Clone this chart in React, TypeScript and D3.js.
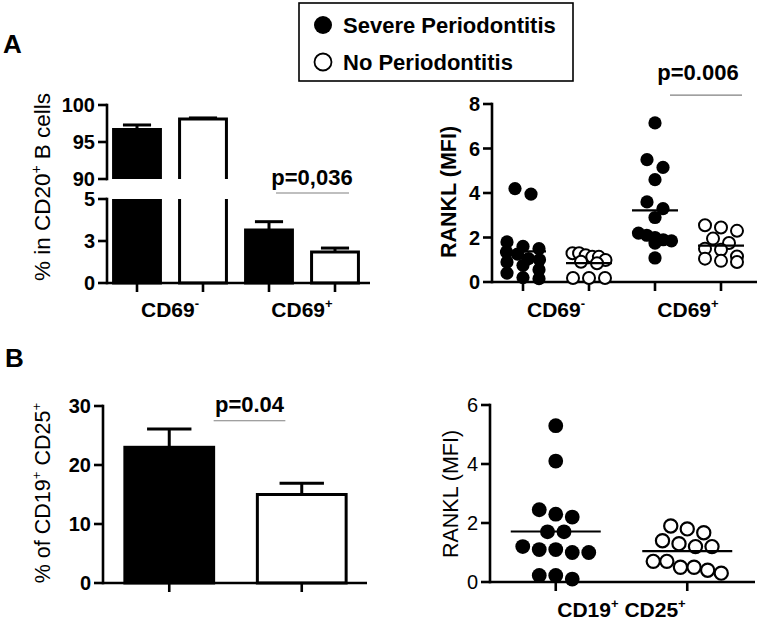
import React from "react";
import * as d3 from "d3";

const W = 759;
const H = 628;
const FONT = "'Liberation Sans', Arial, Helvetica, sans-serif";

// ---------- Legend ----------
const groupNames = ["Severe Periodontitis", "No Periodontitis"];

// ---------- Panel A (left): bars with broken axis ----------
const aCategories = ["CD69^{-}", "CD69^{+}"];
const aBarGroup = [0, 1, 0, 1]; // 0 = severe, 1 = none
const aBarMeans = [96.7, 98.1, 3.15, 1.85];
const aBarSem = [0.6, 0.15, 0.5, 0.23];
const aUpperTicks = [90, 95, 100];
const aLowerTicks = [0, 2.5, 5];
const aLowerTickLabels = ["0", "3", "5"];
const aPValue = "p=0,036";
const aYLabel = "% in CD20^{+} B cells";

// ---------- Panel A (right): RANKL scatter ----------
const aRightCategories = ["CD69^{-}", "CD69^{+}"];
const ranklCD69negSevere = [4.2, 3.95, 1.8, 1.6, 1.5, 1.35, 1.25, 1.05, 1.0, 0.9, 0.75, 0.55, 0.4, 0.2, 0.15];
const ranklCD69negNo = [1.29, 1.29, 1.2, 1.13, 1.13, 0.99, 0.91, 0.84, 0.18, 0.18, 0.18];
const ranklCD69posSevere = [7.15, 5.5, 5.15, 4.6, 3.6, 3.3, 2.9, 2.2, 2.1, 2.0, 1.9, 1.85, 1.75, 1.08];
const ranklCD69posNo = [2.55, 2.45, 2.3, 1.95, 1.75, 1.5, 1.45, 1.15, 1.05, 0.95, 0.9];
const aRightTicks = [0, 2, 4, 6, 8];
const aRightP = "p=0.006";

// ---------- Panel B (left): bars ----------
const bBarMeans = [23.0, 15.0];
const bBarSem = [3.1, 1.9];
const bTicks = [0, 10, 20, 30];
const bP = "p=0.04";
const bYLabel = "% of CD19^{+} CD25^{+}";

// ---------- Panel B (right): RANKL scatter ----------
const ranklCD19Severe = [5.3, 4.1, 2.45, 2.3, 2.2, 1.7, 1.7, 1.2, 1.1, 1.1, 1.0, 1.0, 0.22, 0.22, 0.1];
const ranklCD19No = [1.9, 1.8, 1.67, 1.4, 1.3, 1.2, 1.2, 0.7, 0.7, 0.5, 0.5, 0.4, 0.3];
const bRightTicks = [0, 2, 4, 6];
const bRightCategory = "CD19^{+} CD25^{+}";
const ranklLabel = "RANKL (MFI)";

// ---------- helpers ----------
function Rich(props: any) {
  const { text, size, weight = "normal", anchor = "middle", ...rest } = props;
  const parts: string[] = text.split(/\^\{(.*?)\}/);
  const supSize = size * 0.62;
  const shift = size * 0.42;
  let raised = false;
  const kids: any[] = [];
  parts.forEach((p, i) => {
    if (!p) return;
    if (i % 2 === 1) {
      kids.push(
        <tspan key={i} dy={raised ? 0 : -shift} fontSize={supSize}>
          {p}
        </tspan>
      );
      raised = true;
    } else {
      kids.push(
        <tspan key={i} dy={raised ? shift : 0}>
          {p}
        </tspan>
      );
      raised = false;
    }
  });
  return (
    <text fontFamily={FONT} fontSize={size} fontWeight={weight} textAnchor={anchor} {...rest}>
      {kids}
    </text>
  );
}

function swarm(
  values: number[],
  y: (v: number) => number,
  cx: number,
  rowTol: number,
  step: number,
  maxHalf: number
) {
  const pts = values.map((v, i) => ({ v, i, y: y(v) })).sort((a, b) => a.y - b.y);
  const rows: { y0: number; pts: typeof pts }[] = [];
  pts.forEach((p) => {
    const last = rows[rows.length - 1];
    if (last && p.y - last.y0 <= rowTol) last.pts.push(p);
    else rows.push({ y0: p.y, pts: [p] });
  });
  const out: { x: number; y: number; v: number }[] = [];
  rows.forEach((r) => {
    const n = r.pts.length;
    const s = n > 1 ? Math.min(step, (2 * maxHalf) / (n - 1)) : 0;
    r.pts
      .slice()
      .sort((a, b) => a.i - b.i)
      .forEach((p, k) => out.push({ x: cx + (k - (n - 1) / 2) * s, y: p.y, v: p.v }));
  });
  return out;
}

const AX = 2.6; // axis stroke

function YAxis(props: any) {
  const { x, y0, y1, ticks, scale, labels, weight = "bold", size = 20 } = props;
  return (
    <g>
      <line x1={x} x2={x} y1={y0} y2={y1} stroke="#000" strokeWidth={AX} strokeLinecap="square" />
      {ticks.map((t: number, i: number) => (
        <g key={i}>
          <line x1={x - 9} x2={x} y1={scale(t)} y2={scale(t)} stroke="#000" strokeWidth={AX} />
          <text
            x={x - 12}
            y={scale(t)}
            dy="0.36em"
            textAnchor="end"
            fontFamily={FONT}
            fontSize={size}
            fontWeight={weight}
          >
            {labels ? labels[i] : String(t)}
          </text>
        </g>
      ))}
    </g>
  );
}

function XAxis(props: any) {
  const { y, x0, x1, ticks } = props;
  return (
    <g>
      <line x1={x0} x2={x1} y1={y} y2={y} stroke="#000" strokeWidth={AX} />
      {ticks.map((t: number, i: number) => (
        <line key={i} x1={t} x2={t} y1={y} y2={y + 9} stroke="#000" strokeWidth={AX} />
      ))}
    </g>
  );
}

export default function App() {
  // ----- Panel A left -----
  const tlX = d3
    .scaleBand<number>()
    .domain(d3.range(aBarMeans.length))
    .range([104, 368])
    .paddingInner(0.29)
    .paddingOuter(0.145);
  const tlUp = d3.scaleLinear().domain([90, 100]).range([179, 105]);
  const tlLo = d3.scaleLinear().domain([0, 5]).range([283, 199]);
  const tlAxisX = 107;
  const bw = tlX.bandwidth();
  const tlC = (i: number) => (tlX(i) as number) + bw / 2;

  const tlBars: any[] = [];
  aBarMeans.forEach((v, i) => {
    const x0 = tlX(i) as number;
    const x1 = x0 + bw;
    const fill = aBarGroup[i] === 0 ? "#000" : "#fff";
    const segs: [number, number, boolean][] = [];
    const broken = v > 5;
    if (broken) {
      segs.push([tlUp(v), tlUp(90), true]);
      segs.push([tlLo(5), tlLo(0), false]);
    } else {
      segs.push([tlLo(v), tlLo(0), false]);
    }
    segs.forEach(([top, bot, upper], k) => {
      let d: string;
      if (upper) d = `M${x0},${bot}V${top}H${x1}V${bot}`;
      else if (broken) d = `M${x0},${top}V${bot}H${x1}V${top}`;
      else d = `M${x0},${bot}V${top}H${x1}V${bot}Z`;
      tlBars.push(
        <g key={`${i}-${k}`}>
          <rect x={x0} y={top} width={bw} height={bot - top} fill={fill} />
          <path d={d} fill="none" stroke="#000" strokeWidth={3} />
        </g>
      );
    });
    const sc = broken ? tlUp : tlLo;
    const yt = sc(v);
    const ye = sc(v + aBarSem[i]);
    const cx = tlC(i);
    tlBars.push(
      <g key={`e${i}`}>
        <line x1={cx} x2={cx} y1={yt} y2={ye} stroke="#000" strokeWidth={3} />
        <line x1={cx - bw * 0.3} x2={cx + bw * 0.3} y1={ye} y2={ye} stroke="#000" strokeWidth={3} />
      </g>
    );
  });

  // ----- Panel A right -----
  const trX = d3.scalePoint<number>().domain([0, 1, 2, 3]).range([490, 754]).padding(0.5);
  const trY = d3.scaleLinear().domain([0, 8]).range([282, 104]);
  const trSets = [ranklCD69negSevere, ranklCD69negNo, ranklCD69posSevere, ranklCD69posNo];
  const trGroup = [0, 1, 0, 1];

  // ----- Panel B left -----
  const blX = d3
    .scaleBand<number>()
    .domain([0, 1])
    .range([103, 368])
    .paddingInner(0.33)
    .paddingOuter(0.165);
  const blY = d3.scaleLinear().domain([0, 30]).range([583, 406]);
  const bbw = blX.bandwidth();

  // ----- Panel B right -----
  const brX = d3.scalePoint<number>().domain([0, 1]).range([490, 753]).padding(0.5);
  const brY = d3.scaleLinear().domain([0, 6]).range([582, 405]);
  const brSets = [ranklCD19Severe, ranklCD19No];

  return (
    <svg
      width={W}
      height={H}
      viewBox={`0 0 ${W} ${H}`}
      style={{ position: "absolute", left: 0, top: 0, background: "#fff" }}
    >
      <rect x={0} y={0} width={W} height={H} fill="#fff" />

      {/* Panel letters */}
      <text x={3} y={53} fontFamily={FONT} fontSize={26} fontWeight="bold">A</text>
      <text x={5} y={367} fontFamily={FONT} fontSize={26} fontWeight="bold">B</text>

      {/* Legend */}
      <g>
        <rect x={299} y={3} width={274} height={78} fill="#fff" stroke="#000" strokeWidth={1.6} />
        <circle cx={323} cy={25} r={9} fill="#000" />
        <text x={343} y={33} fontFamily={FONT} fontSize={22} fontWeight="bold">{groupNames[0]}</text>
        <circle cx={323} cy={62} r={8.5} fill="#fff" stroke="#000" strokeWidth={1.8} />
        <text x={343} y={70} fontFamily={FONT} fontSize={22} fontWeight="bold">{groupNames[1]}</text>
      </g>

      {/* ===== Panel A left ===== */}
      <g>
        {tlBars}
        <YAxis x={tlAxisX} y0={tlUp(100)} y1={tlUp(90)} ticks={aUpperTicks} scale={tlUp} />
        <YAxis x={tlAxisX} y0={tlLo(5)} y1={tlLo(0)} ticks={aLowerTicks} scale={tlLo} labels={aLowerTickLabels} />
        <XAxis y={tlLo(0)} x0={tlAxisX} x1={370} ticks={d3.range(4).map(tlC)} />
        {aCategories.map((c, k) => (
          <Rich
            key={k}
            text={c}
            x={(tlC(2 * k) + tlC(2 * k + 1)) / 2}
            y={317}
            size={21}
            weight="bold"
          />
        ))}
        <Rich text={aYLabel} size={22.5} transform="translate(50,187) rotate(-90)" />
        <text x={(tlC(2) + tlC(3)) / 2 + 10} y={185} textAnchor="middle" fontFamily={FONT} fontSize={22} fontWeight="bold">
          {aPValue}
        </text>
        <line x1={tlC(2) + 7} x2={tlC(3) + 14} y1={193} y2={193} stroke="#808080" strokeWidth={1.2} />
      </g>

      {/* ===== Panel A right ===== */}
      <g>
        <YAxis x={492} y0={trY(8)} y1={trY(0)} ticks={aRightTicks} scale={trY} />
        <XAxis y={trY(0)} x0={492} x1={757} ticks={[0, 1, 2, 3].map((i) => trX(i) as number)} />
        {trSets.map((vals, g) => {
          const cx = trX(g) as number;
          const pts = swarm(vals, trY, cx, 8, 16, 16.5);
          const m = d3.mean(vals) as number;
          const filled = trGroup[g] === 0;
          return (
            <g key={g}>
              {pts.map((p, k) =>
                filled ? (
                  <circle key={k} cx={p.x} cy={p.y} r={6.6} fill="#000" />
                ) : (
                  <circle key={k} cx={p.x} cy={p.y} r={6} fill="#fff" stroke="#000" strokeWidth={2} />
                )
              )}
              <line x1={cx - 23} x2={cx + 23} y1={trY(m)} y2={trY(m)} stroke="#000" strokeWidth={2.2} />
            </g>
          );
        })}
        {aRightCategories.map((c, k) => (
          <Rich
            key={k}
            text={c}
            x={((trX(2 * k) as number) + (trX(2 * k + 1) as number)) / 2}
            y={317}
            size={21}
            weight="bold"
          />
        ))}
        <Rich text={ranklLabel} size={21.5} weight="bold" transform="translate(456,192) rotate(-90)" />
        <text
          x={((trX(2) as number) + (trX(3) as number)) / 2 + 10}
          y={80}
          textAnchor="middle"
          fontFamily={FONT}
          fontSize={22}
          fontWeight="bold"
        >
          {aRightP}
        </text>
        <line
          x1={(trX(2) as number) + 15}
          x2={(trX(3) as number) + 21}
          y1={trY(8.4)}
          y2={trY(8.4)}
          stroke="#808080"
          strokeWidth={1.2}
        />
      </g>

      {/* ===== Panel B left ===== */}
      <g>
        {bBarMeans.map((v, i) => {
          const x0 = blX(i) as number;
          const cx = x0 + bbw / 2;
          const yt = blY(v);
          const ye = blY(v + bBarSem[i]);
          return (
            <g key={i}>
              <rect
                x={x0}
                y={yt}
                width={bbw}
                height={blY(0) - yt}
                fill={i === 0 ? "#000" : "#fff"}
                stroke="#000"
                strokeWidth={3}
              />
              <line x1={cx} x2={cx} y1={yt} y2={ye} stroke="#000" strokeWidth={3} />
              <line x1={cx - bbw * 0.25} x2={cx + bbw * 0.25} y1={ye} y2={ye} stroke="#000" strokeWidth={3} />
            </g>
          );
        })}
        <YAxis x={103} y0={blY(30)} y1={blY(0)} ticks={bTicks} scale={blY} />
        <XAxis y={blY(0)} x0={103} x1={367} ticks={[0, 1].map((i) => (blX(i) as number) + bbw / 2)} />
        <Rich text={bYLabel} size={21.5} transform="translate(50,493) rotate(-90)" />
        <text
          x={((blX(0) as number) + bbw + (blX(1) as number) + 28) / 2}
          y={412}
          textAnchor="middle"
          fontFamily={FONT}
          fontSize={22}
          fontWeight="bold"
        >
          {bP}
        </text>
        <line
          x1={(blX(0) as number) + bbw}
          x2={(blX(1) as number) + 28}
          y1={blY(27.5)}
          y2={blY(27.5)}
          stroke="#808080"
          strokeWidth={1.2}
        />
      </g>

      {/* ===== Panel B right ===== */}
      <g>
        <YAxis x={490} y0={brY(6)} y1={brY(0)} ticks={bRightTicks} scale={brY} weight="normal" />
        <XAxis y={brY(0)} x0={490} x1={755} ticks={[0, 1].map((i) => brX(i) as number)} />
        {brSets.map((vals, g) => {
          const cx = brX(g) as number;
          const pts = swarm(vals, brY, cx, 12, 16.5, 34);
          const m = d3.mean(vals) as number;
          return (
            <g key={g}>
              {pts.map((p, k) =>
                g === 0 ? (
                  <circle key={k} cx={p.x} cy={p.y} r={7.4} fill="#000" />
                ) : (
                  <circle key={k} cx={p.x} cy={p.y} r={6.6} fill="#fff" stroke="#000" strokeWidth={2.2} />
                )
              )}
              <line x1={cx - 45} x2={cx + 45} y1={brY(m)} y2={brY(m)} stroke="#000" strokeWidth={2.2} />
            </g>
          );
        })}
        <Rich
          text={bRightCategory}
          x={((brX(0) as number) + (brX(1) as number)) / 2}
          y={617}
          size={21}
          weight="bold"
        />
        <Rich text={ranklLabel} size={21.5} transform="translate(458,494) rotate(-90)" />
      </g>
    </svg>
  );
}
